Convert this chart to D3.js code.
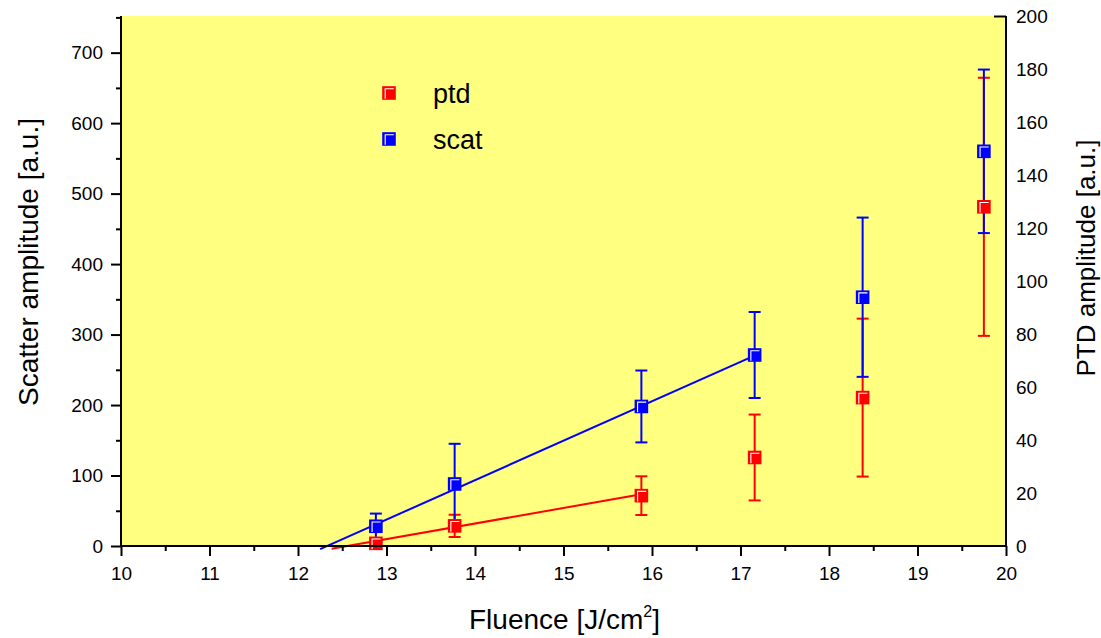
<!DOCTYPE html>
<html>
<head>
<meta charset="utf-8">
<script src="https://cdn.jsdelivr.net/npm/d3@7/dist/d3.min.js"></script>
<style>
  html, body { margin: 0; padding: 0; background: #ffffff; }
  svg { display: block; }
  text { font-family: "Liberation Sans", Arial, sans-serif; fill: #000; }
</style>
</head>
<body>
<svg id="chart" width="1101" height="638"></svg>
<script>
// Fluence values (J/cm^2) of the measurement points
const fluence = [12.88, 13.77, 15.88, 17.16, 18.38, 19.75];

// Scatter amplitude (left axis) with error bars
const scat    = [28, 88, 198, 271, 353, 560];
const scatErr = [18, 57, 51, 61, 113, 116];

// PTD amplitude (right axis) with error bars
const ptd    = [1, 7.6, 19, 33.4, 56, 128];
const ptdErr = [1, 4.2, 7.3, 16.2, 29.8, 48.7];

// Linear fits over the low-fluence points: [fluence, amplitude] end points
const fitScat = [[12.25, -4.5], [17.12, 268]];
const fitPtd  = [[12.38, -1.0], [15.88, 19.5]];

// Axis ticks
const xTicks      = [10, 11, 12, 13, 14, 15, 16, 17, 18, 19, 20];
const xMinor      = [10.5, 11.5, 12.5, 13.5, 14.5, 15.5, 16.5, 17.5, 18.5, 19.5];
const yLeftTicks  = [0, 100, 200, 300, 400, 500, 600, 700];
const yLeftMinor  = [50, 150, 250, 350, 450, 550, 650, 750];
const yRightTicks = [0, 20, 40, 60, 80, 100, 120, 140, 160, 180, 200];

// Legend entries
const legendItems = [
  { name: "ptd",  color: "#ff0000" },
  { name: "scat", color: "#0000ff" }
];

const svg = d3.select("#chart");
const pLeft = 121, pRight = 1006, pTop = 16, pBottom = 546;

const x  = d3.scaleLinear().domain([10, 20]).range([pLeft, pRight]);
const yL = d3.scaleLinear().domain([0, 752]).range([pBottom, pTop]);
const yR = d3.scaleLinear().domain([0, 200]).range([pBottom, pTop]);

// plot background
svg.append("rect")
  .attr("x", pLeft).attr("y", pTop)
  .attr("width", pRight - pLeft).attr("height", pBottom - pTop)
  .attr("fill", "#ffff80");

const plot = svg.append("g");

// fit lines
const line = (ys) => d3.line().x(d => x(d[0])).y(d => ys(d[1]));
plot.append("path").datum(fitPtd)
  .attr("d", line(yR)).attr("fill", "none")
  .attr("stroke", "#ff0000").attr("stroke-width", 2);
plot.append("path").datum(fitScat)
  .attr("d", line(yL)).attr("fill", "none")
  .attr("stroke", "#0000ff").attr("stroke-width", 2);

const seriesList = [
  { vals: ptd,  errs: ptdErr,  scale: yR, color: "#ff0000" },
  { vals: scat, errs: scatErr, scale: yL, color: "#0000ff" }
];

// error bars
seriesList.forEach(s => {
  const g = plot.append("g").attr("stroke", s.color).attr("stroke-width", 2).attr("fill", "none");
  fluence.forEach((f, i) => {
    const cx = x(f), y1 = s.scale(s.vals[i] + s.errs[i]), y0 = s.scale(s.vals[i] - s.errs[i]);
    g.append("line").attr("x1", cx).attr("x2", cx).attr("y1", y1).attr("y2", y0);
    g.append("line").attr("x1", cx - 6).attr("x2", cx + 6).attr("y1", y1).attr("y2", y1);
    g.append("line").attr("x1", cx - 6).attr("x2", cx + 6).attr("y1", y0).attr("y2", y0);
  });
});

// square marker with a light inner highlight on the top and left edges
function marker(g, cx, cy, color) {
  const h = 6.8;
  g.append("rect")
    .attr("x", cx - h).attr("y", cy - h)
    .attr("width", 2 * h).attr("height", 2 * h)
    .attr("fill", color);
  g.append("path")
    .attr("d", `M${cx - h + 3},${cy + h - 1} V${cy - h + 2.5} H${cx + h - 2}`)
    .attr("fill", "none").attr("stroke", "#ffffff").attr("stroke-width", 1.1);
}

seriesList.forEach(s => {
  const g = plot.append("g");
  fluence.forEach((f, i) => marker(g, x(f), s.scale(s.vals[i]), s.color));
});

// axes
const fontSize = "19px";
function styleAxis(g) {
  g.select(".domain").remove();
  g.selectAll(".tick line").attr("stroke", "#000").attr("stroke-width", 2);
  g.selectAll(".tick text").style("font-size", fontSize).style("font-family", '"Liberation Sans", Arial, sans-serif');
}

// bottom
svg.append("g").attr("transform", `translate(0,${pBottom})`)
  .call(d3.axisBottom(x).tickValues(xTicks).tickSize(10).tickPadding(11).tickFormat(d3.format("d")))
  .call(styleAxis);
svg.append("g").attr("transform", `translate(0,${pBottom})`)
  .call(d3.axisBottom(x).tickValues(xMinor).tickSize(5).tickFormat(""))
  .call(styleAxis);

// left
svg.append("g").attr("transform", `translate(${pLeft},0)`)
  .call(d3.axisLeft(yL).tickValues(yLeftTicks).tickSize(10).tickPadding(8).tickFormat(d3.format("d")))
  .call(styleAxis);
svg.append("g").attr("transform", `translate(${pLeft},0)`)
  .call(d3.axisLeft(yL).tickValues(yLeftMinor).tickSize(5).tickFormat(""))
  .call(styleAxis);

// right
svg.append("g").attr("transform", `translate(${pRight},0)`)
  .call(d3.axisRight(yR).tickValues(yRightTicks).tickSize(0).tickPadding(10).tickFormat(d3.format("d")))
  .call(styleAxis);
svg.append("g").attr("transform", `translate(${pRight},0)`)
  .call(d3.axisRight(yR).tickValues([200]).tickSize(-12).tickFormat(""))
  .call(styleAxis);

// axis lines
const frame = svg.append("g").attr("stroke", "#000").attr("stroke-width", 2);
frame.append("line").attr("x1", pLeft - 1).attr("x2", pRight + 1).attr("y1", pBottom).attr("y2", pBottom);
frame.append("line").attr("x1", pLeft).attr("x2", pLeft).attr("y1", pTop).attr("y2", pBottom);
frame.append("line").attr("x1", pRight).attr("x2", pRight).attr("y1", pTop).attr("y2", pBottom);

// axis titles
const xt = svg.append("text")
  .attr("x", (pLeft + pRight) / 2 + 1).attr("y", 629)
  .attr("text-anchor", "middle").style("font-size", "28px");
xt.append("tspan").text("Fluence [J/cm");
xt.append("tspan").attr("dy", -12).style("font-size", "16px").text("2");
xt.append("tspan").attr("dy", 12).text("]");

svg.append("text")
  .attr("transform", "translate(38,262) rotate(-90)")
  .attr("text-anchor", "middle").style("font-size", "28px")
  .text("Scatter amplitude [a.u.]");

svg.append("text")
  .attr("transform", "translate(1095,258) rotate(-90)")
  .attr("text-anchor", "middle").style("font-size", "26px")
  .text("PTD amplitude [a.u.]");

// legend
const legend = svg.append("g");
legendItems.forEach((d, i) => {
  const cy = 93 + i * 46;
  marker(legend, 389, cy, d.color);
  legend.append("text")
    .attr("x", 433).attr("y", cy + 10)
    .style("font-size", "27px")
    .text(d.name);
});
</script>
</body>
</html>
